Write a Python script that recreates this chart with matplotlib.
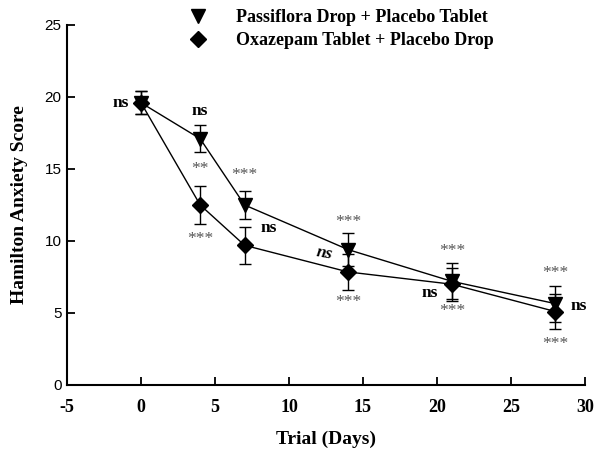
import matplotlib
matplotlib.use("Agg")
import matplotlib.pyplot as plt
from matplotlib.lines import Line2D

days = [0, 4, 7, 14, 21, 28]
passiflora = [19.6, 17.1, 12.5, 9.4, 7.2, 5.65]
passiflora_err = [0.8, 0.95, 0.95, 1.15, 1.25, 1.25]
oxazepam = [19.6, 12.5, 9.7, 7.85, 7.0, 5.1]
oxazepam_err = [0.8, 1.3, 1.3, 1.25, 1.15, 1.2]

# annotations: (text, x, y, kind)
annotations = [
    ("ns", -1.4, 19.6, "ns"),
    ("ns", 4.0, 19.05, "ns"),
    ("**", 4.0, 15.0, "star"),
    ("***", 4.0, 10.15, "star"),
    ("***", 7.0, 14.6, "star"),
    ("ns", 8.6, 10.9, "ns"),
    ("***", 14.0, 11.3, "star"),
    ("ns", 12.4, 9.1, "nsi"),
    ("***", 14.0, 5.75, "star"),
    ("***", 21.0, 9.3, "star"),
    ("ns", 19.5, 6.4, "ns"),
    ("***", 21.0, 5.15, "star"),
    ("***", 28.0, 7.8, "star"),
    ("ns", 29.6, 5.5, "ns"),
    ("***", 28.0, 2.85, "star"),
]

xticks = [-5, 0, 5, 10, 15, 20, 25, 30]
yticks = [0, 5, 10, 15, 20, 25]

serif = "Liberation Serif"
sans = "Liberation Sans"

fig = plt.figure(figsize=(5.94, 4.53), dpi=100)
ax = fig.add_axes([67/594, 1-385/453, (585-67)/594, (385-25)/453])

ax.errorbar(days, oxazepam, yerr=oxazepam_err, color="black", lw=1,
            marker="D", markersize=8, capsize=4.5, elinewidth=1, capthick=1)
ax.errorbar(days, passiflora, yerr=passiflora_err, color="black", lw=1,
            marker="v", markersize=10, capsize=4.5, elinewidth=1, capthick=1)

for txt, x, y, kind in annotations:
    if kind == "star":
        ax.text(x, y, txt, ha="center", va="center", fontsize=12.5,
                color="#555555", family=serif)
    elif kind == "nsi":
        ax.text(x, y, txt, ha="center", va="center", fontsize=12.5,
                fontweight="bold", style="italic", family=serif, rotation=-10)
    else:
        ax.text(x, y, txt, ha="center", va="center", fontsize=12.5,
                fontweight="bold", family=serif)

ax.set_xlim(-5, 30)
ax.set_ylim(0, 25)
ax.set_xticks(xticks)
ax.set_yticks(yticks)
ax.set_xticklabels([str(t) for t in xticks], family=serif, fontweight="bold", fontsize=13)
ax.set_yticklabels([str(t) for t in yticks], family=sans, fontsize=11)
ax.tick_params(direction="in", length=6, width=1.3, pad=10)
ax.tick_params(axis="y", pad=4)
for s in ["top", "right"]:
    ax.spines[s].set_visible(False)
for s in ["left", "bottom"]:
    ax.spines[s].set_linewidth(1.5)

ax.set_xlabel("Trial (Days)", family=serif, fontweight="bold", fontsize=14, labelpad=11)
ax.set_ylabel("Hamilton Anxiety Score", family=serif, fontweight="bold", fontsize=14, labelpad=11.5)

handles = [
    Line2D([], [], color="black", marker="v", markersize=10, linestyle="none"),
    Line2D([], [], color="black", marker="D", markersize=8, linestyle="none"),
]
leg = fig.legend(handles, ["Passiflora Drop + Placebo Tablet", "Oxazepam Tablet + Placebo Drop"],
                 loc="upper left", bbox_to_anchor=(171/594, 1.0), frameon=False,
                 prop={"family": serif, "weight": "bold", "size": 13},
                 handletextpad=1.1, labelspacing=0.33, borderaxespad=0.1)

fig.savefig("out.png", dpi=100)
